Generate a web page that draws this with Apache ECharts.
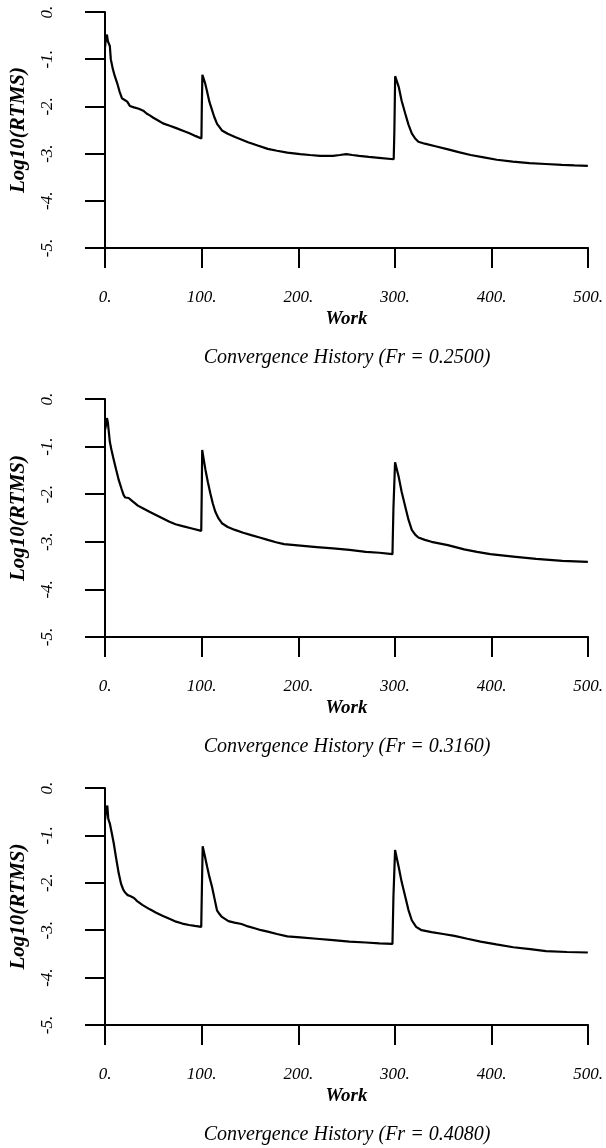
<!DOCTYPE html>
<html>
<head>
<meta charset="utf-8">
<script src="https://cdn.jsdelivr.net/npm/echarts@6/dist/echarts.min.js"></script>
<style>
  html, body { margin: 0; padding: 0; background: #fff; }
  #chart { width: 606px; height: 1148px; }
</style>
</head>
<body>
<div id="chart"></div>
<script>
// work / log10(rtms) pairs
const historyFr2500 = [
  [0, -0.75], [1, -0.55], [2, -0.48], [3, -0.62], [4, -0.6], [5, -0.72], [6, -1.0], [8, -1.2],
  [10, -1.35], [12.5, -1.5], [15, -1.68], [17.6, -1.83], [20, -1.86], [22, -1.86], [23, -1.9],
  [25.7, -1.99], [30, -2.02], [35, -2.05], [39.6, -2.09], [43, -2.15], [46.4, -2.19], [50, -2.24],
  [55, -2.3], [60, -2.36], [67, -2.41], [73.8, -2.46], [80, -2.51], [87.4, -2.57], [94, -2.63],
  [99.8, -2.68], [100.2, -2.0], [100.8, -1.33], [103.5, -1.5], [105.7, -1.69], [108, -1.9],
  [110.8, -2.08], [113, -2.22], [116, -2.37], [121, -2.51], [127, -2.58], [134.6, -2.65],
  [148, -2.76], [158, -2.83], [168.4, -2.9], [178, -2.94], [188.7, -2.98], [202, -3.01],
  [212, -3.03], [222.6, -3.05], [236, -3.05], [243, -3.03], [249.7, -3.01], [256, -3.03],
  [263, -3.05], [273, -3.07], [283.5, -3.09], [298.8, -3.12], [299.5, -2.5], [300.3, -1.36],
  [303.9, -1.58], [307, -1.88], [310.7, -2.15], [314, -2.38], [317.5, -2.57], [321, -2.68],
  [324.3, -2.75], [331, -2.79], [343, -2.85], [355, -2.91], [366, -2.97], [378.4, -3.03],
  [392, -3.08], [405.5, -3.13], [422, -3.17], [439.2, -3.2], [456, -3.22], [473, -3.24],
  [486, -3.25], [499.7, -3.26]
];

const historyFr3160 = [
  [0, -0.65], [1, -0.55], [2, -0.4], [3, -0.5], [4, -0.7], [5, -0.9], [7, -1.1], [9.1, -1.28],
  [11.5, -1.48], [14.2, -1.7], [17, -1.88], [19.3, -2.02], [21, -2.07], [22.7, -2.09],
  [24.5, -2.08], [26, -2.07], [28, -2.14], [29.5, -2.18], [34, -2.24], [39.6, -2.3], [46, -2.37],
  [53.2, -2.44], [60, -2.51], [66.7, -2.58], [73, -2.63], [80.3, -2.67], [90, -2.72],
  [99.6, -2.77], [100.1, -2.0], [100.6, -1.07], [102, -1.25], [104, -1.49], [106.5, -1.75],
  [109, -1.98], [111.5, -2.19], [114.2, -2.37], [117.5, -2.51], [121, -2.61], [127, -2.69],
  [134.5, -2.75], [143, -2.81], [151.4, -2.86], [160, -2.91], [168.4, -2.96], [177, -3.01],
  [185.3, -3.05], [202.2, -3.08], [219, -3.11], [236, -3.14], [253, -3.17], [270, -3.21],
  [284, -3.23], [297.5, -3.26], [298.5, -2.3], [300.2, -1.33], [303.9, -1.63], [307, -1.95],
  [310.7, -2.26], [314, -2.53], [317.5, -2.75], [321, -2.85], [324.3, -2.91], [331, -2.96],
  [337.9, -3.0], [354.8, -3.07], [371.7, -3.16], [385, -3.21], [398.8, -3.26], [422.5, -3.31],
  [446.2, -3.36], [473.3, -3.4], [499.7, -3.42]
];

const historyFr4080 = [
  [0, -0.68], [1, -0.5], [2.4, -0.37], [3.4, -0.65], [5, -0.75], [7, -0.95], [9.1, -1.17],
  [11.5, -1.48], [14.2, -1.8], [16.6, -2.02], [19, -2.15], [21, -2.21], [23.5, -2.26],
  [26, -2.28], [27.8, -2.26], [30, -2.32], [32.9, -2.38], [39, -2.47], [46.4, -2.56],
  [53, -2.63], [60, -2.7], [66.7, -2.76], [73.5, -2.82], [80, -2.86], [87, -2.89], [93, -2.91],
  [99.6, -2.93], [100.3, -2.1], [101.1, -1.23], [103.5, -1.45], [105.7, -1.66], [108, -1.87],
  [110.8, -2.09], [113.5, -2.35], [115.9, -2.58], [118.5, -2.66], [121, -2.72], [127.7, -2.81],
  [134, -2.84], [141.3, -2.87], [148, -2.92], [154.8, -2.96], [161.6, -3.0], [168.4, -3.03],
  [178, -3.08], [188.7, -3.13], [202.2, -3.15], [219, -3.18], [236, -3.21], [253, -3.24],
  [270, -3.26], [284, -3.28], [297.5, -3.29], [298.5, -2.3], [300.2, -1.31], [303.9, -1.66],
  [307, -1.98], [310.7, -2.29], [314, -2.57], [317.5, -2.79], [322, -2.93], [327.6, -3.0],
  [337.9, -3.04], [350, -3.08], [361.6, -3.12], [375, -3.18], [388.7, -3.24], [405, -3.3],
  [422.5, -3.36], [440, -3.4], [456.4, -3.44], [478, -3.46], [499.7, -3.47]
];

const panelTitles = [
  "Convergence History (Fr = 0.2500)",
  "Convergence History (Fr = 0.3160)",
  "Convergence History (Fr = 0.4080)"
];
const histories = [historyFr2500, historyFr3160, historyFr4080];

const FONT = "Liberation Serif";
const panelTops = [12, 399, 788];
const panelHeights = [236, 238, 237];

const grids = [];
const xAxes = [];
const yAxes = [];
const series = [];
const graphics = [];

panelTops.forEach((top, i) => {
  grids.push({ left: 101, width: 492, top: top, height: panelHeights[i] });

  xAxes.push({
    gridIndex: i,
    type: "value",
    position: "bottom",
    min: 0,
    max: 500,
    interval: 100,
    name: "Work",
    nameLocation: "middle",
    nameGap: 62,
    nameTextStyle: { fontFamily: FONT, fontStyle: "italic", fontWeight: "bold", fontSize: 19, color: "#000" },
    axisLine: { onZero: false, lineStyle: { color: "#000", width: 2 } },
    axisTick: { inside: false, length: 20, lineStyle: { color: "#000", width: 2 } },
    axisLabel: {
      margin: 41,
      fontFamily: FONT, fontStyle: "italic", fontSize: 17, color: "#000",
      formatter: (v) => v + "."
    },
    splitLine: { show: false }
  });

  yAxes.push({
    gridIndex: i,
    type: "value",
    position: "left",
    min: -5,
    max: 0,
    interval: 1,
    name: "Log10(RTMS)",
    nameLocation: "middle",
    nameGap: 76,
    nameTextStyle: { fontFamily: FONT, fontStyle: "italic", fontWeight: "bold", fontSize: 21, color: "#000" },
    axisLine: { onZero: false, lineStyle: { color: "#000", width: 2 } },
    axisTick: { inside: false, length: 20, lineStyle: { color: "#000", width: 2 } },
    axisLabel: {
      rotate: 90,
      margin: 49,
      fontFamily: FONT, fontStyle: "italic", fontSize: 17, color: "#000",
      formatter: (v) => v + "."
    },
    splitLine: { show: false }
  });

  series.push({
    type: "line",
    xAxisIndex: i,
    yAxisIndex: i,
    data: histories[i],
    showSymbol: false,
    smooth: false,
    lineStyle: { color: "#000", width: 2.2 },
    animation: false
  });

  graphics.push({
    type: "text",
    x: 347,
    y: top + panelHeights[i] + 110,
    style: {
      text: panelTitles[i],
      font: "italic 20px '" + FONT + "'",
      fill: "#000",
      align: "center",
      verticalAlign: "middle"
    }
  });
});

const chart = echarts.init(document.getElementById("chart"));
chart.setOption({
  backgroundColor: "#fff",
  animation: false,
  grid: grids,
  xAxis: xAxes,
  yAxis: yAxes,
  series: series,
  graphic: graphics
});
</script>
</body>
</html>
